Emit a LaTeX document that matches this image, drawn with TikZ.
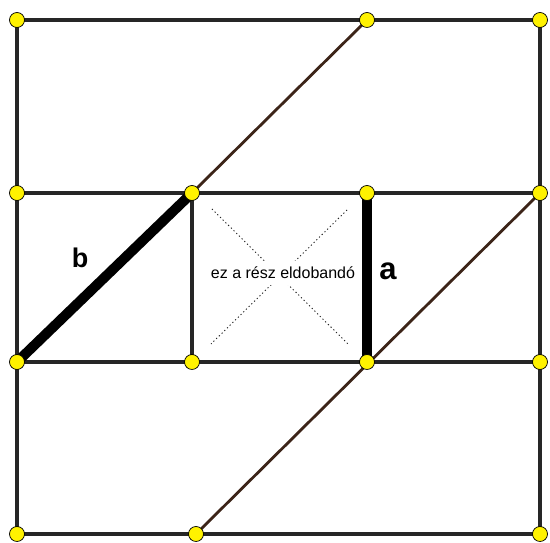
\documentclass[tikz,border=0pt]{standalone}
\usepackage{fontspec}
\setmainfont{Liberation Sans}
\definecolor{gridgray}{HTML}{262626}
\definecolor{diagbrown}{HTML}{3C2418}
\definecolor{ptyellow}{HTML}{FFF200}
\begin{document}
\begin{tikzpicture}[x=1pt,y=1pt,
  gridline/.style={draw=gridgray, line width=3.2pt},
  diagline/.style={draw=diagbrown, line width=2.8pt},
  boldseg/.style={draw=black, line width=10pt},
  xline/.style={draw=gridgray, line width=0.9pt, dash pattern=on 1.2pt off 2.6pt},
  gpt/.style={circle, fill=ptyellow, draw=black, line width=0.7pt, minimum size=15pt, inner sep=0pt},
  lbl/.style={font=\bfseries, text=black, inner sep=0pt}]
\useasboundingbox (0,0) rectangle (550,543);
% grid coordinates
\coordinate (c11) at (17,523);
\coordinate (c13) at (367,523);
\coordinate (c14) at (540,523);
\coordinate (c21) at (17,350);
\coordinate (c22) at (192,350);
\coordinate (c23) at (367,350);
\coordinate (c24) at (540,350);
\coordinate (c31) at (17,181);
\coordinate (c32) at (192,181);
\coordinate (c33) at (367,181);
\coordinate (c34) at (540,181);
\coordinate (c41) at (17,9);
\coordinate (c42) at (196,9);
\coordinate (c44) at (540,9);
% dotted cross ends
\coordinate (d1) at (212,334);
\coordinate (d2) at (348,199);
\coordinate (d3) at (347,333);
\coordinate (d4) at (211,199);
% grid
\draw[gridline] (c11) -- (c14) -- (c44) -- (c41) -- cycle;
\draw[gridline] (c21) -- (c24);
\draw[gridline] (c31) -- (c34);
\draw[gridline] (c22) -- (c32);
% diagonals
\draw[diagline] (c22) -- (c13);
\draw[diagline] (c42) -- (c24);
% bold segments
\draw[boldseg] (c23) -- (c33);
\draw[boldseg] (c31) -- (c22);
% dotted cross
\draw[xline] (d1) -- (d2);
\draw[xline] (d3) -- (d4);
\node[fill=white, inner xsep=1pt, inner ysep=6pt, font=\fontsize{16}{18}\selectfont] (txt) at (283,270) {ez a rész eldobandó};
% labels
\node[lbl, font=\fontsize{27}{30}\selectfont\bfseries] (lb) at (80,285) {b};
\node[lbl, font=\fontsize{31}{34}\selectfont\bfseries] (la) at (388,272) {a};
% points
\foreach \p in {c11,c13,c14,c21,c22,c23,c24,c31,c32,c33,c34,c41,c42,c44}
  \node[gpt] (n\p) at (\p) {};
\end{tikzpicture}
\end{document}
